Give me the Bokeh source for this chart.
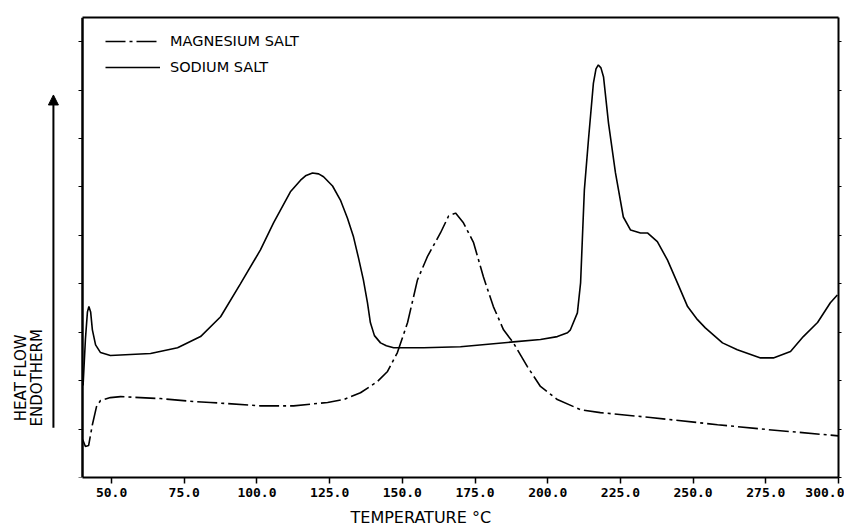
from math import pi
from bokeh.plotting import figure
from bokeh.models import (Range1d, LinearAxis, FixedTicker, PrintfTickFormatter,
                          Legend, LegendItem, Label, Arrow, NormalHead, Title)
from bokeh.embed import file_html
from bokeh.resources import INLINE

# ---- data ----
temp_na = [40.2, 41.0, 41.7, 42.2, 42.8, 43.4, 44.5, 46.2, 49.6, 56.5, 63.4, 72.7, 80.6, 87.5,
           94.3, 101.2, 105.7, 111.5, 115.0, 116.7, 119.1, 121.2, 122.9, 126.0, 128.7, 131.1,
           133.2, 134.9, 136.6, 138.0, 139.0, 140.4, 142.5, 144.5,
           147.0, 157.3, 170.0, 188.2, 197.5, 203.3, 206.8, 207.8, 210.2, 211.3, 211.9, 212.6,
           214.0, 215.7, 216.6, 217.4, 218.3, 219.2, 220.9, 223.3, 226.0, 228.5, 231.9, 234.3,
           237.7, 241.2, 244.6, 248.1, 251.5, 254.2, 260.1, 265.2, 273.2, 277.6, 283.5, 287.9,
           292.8, 297.2, 299.6]
heat_na = [1.90, 2.85, 3.42, 3.53, 3.42, 3.05, 2.74, 2.58, 2.52, 2.54, 2.56, 2.68, 2.91, 3.32,
           4.00, 4.70, 5.26, 5.90, 6.14, 6.23, 6.29, 6.27, 6.21, 6.02, 5.73, 5.36,
           4.97, 4.54, 4.08, 3.61, 3.20, 2.93, 2.78, 2.72,
           2.68, 2.68, 2.70, 2.80, 2.85, 2.91, 2.99, 3.05, 3.40, 4.02, 4.91, 5.94,
           6.97, 8.14, 8.44, 8.52, 8.46, 8.27, 7.32, 6.29, 5.38, 5.11, 5.05, 5.05,
           4.87, 4.49, 4.02, 3.53, 3.26, 3.09, 2.78, 2.64, 2.47, 2.47, 2.60, 2.91,
           3.20, 3.61, 3.77]

temp_mg = [40.1, 41.0, 42.1, 43.4, 44.8, 46.2, 49.6, 53.1, 66.8, 78.2, 84.0, 101.2, 112.6, 124.3,
           129.8, 135.6, 141.4, 144.9, 148.3, 151.8, 155.2, 158.6, 163.1, 165.9, 168.3, 171.0,
           174.5, 177.9, 181.3, 184.8, 188.2, 193.0, 197.5, 203.3, 211.3, 218.1, 235.3, 258.4,
           275.6, 300.0]
heat_mg = [0.78, 0.64, 0.66, 1.09, 1.46, 1.59, 1.65, 1.67, 1.63, 1.57, 1.55, 1.48, 1.48, 1.55,
           1.61, 1.75, 1.98, 2.19, 2.58, 3.20, 4.08, 4.56, 5.05, 5.40, 5.46, 5.26,
           4.85, 4.14, 3.53, 3.05, 2.78, 2.29, 1.88, 1.61, 1.40, 1.34, 1.24, 1.09,
           0.99, 0.86]

x_ticks = [50, 75, 100, 125, 150, 175, 200, 225, 250, 275, 300]
y_ticks = [0, 1, 2, 3, 4, 5, 6, 7, 8, 9]

series_names = ["MAGNESIUM SALT", "SODIUM SALT"]
x_title = "TEMPERATURE °C"
y_title_1 = "HEAT FLOW"
y_title_2 = "ENDOTHERM"

T_MIN, T_MAX = 40, 300

# ---- figure: the frame reaches the left edge so the y titles and arrow live inside it ----
p = figure(width=844, height=532, x_range=Range1d(11.8, T_MAX), y_range=Range1d(0, 9.5),
           output_backend="svg", toolbar_location=None,
           x_axis_location=None, y_axis_location=None,
           min_border_left=0, min_border_right=6, min_border_top=17, min_border_bottom=54)
p.grid.visible = False
p.outline_line_color = None
p.background_fill_color = "white"
p.border_fill_color = "white"

xaxis = LinearAxis(ticker=FixedTicker(ticks=x_ticks), formatter=PrintfTickFormatter(format="%.1f"),
                   bounds=(T_MIN, T_MAX),
                   major_tick_out=6, major_tick_in=0, minor_tick_line_color=None,
                   axis_line_width=2, major_tick_line_width=1.5,
                   major_label_text_font="DejaVu Sans Mono", major_label_text_font_size="13px",
                   major_label_text_font_style="bold",
                   major_label_text_color="black", major_label_standoff=4)
p.add_layout(xaxis, "below")

top_axis = LinearAxis(ticker=FixedTicker(ticks=x_ticks), bounds=(T_MIN, T_MAX),
                      major_label_overrides={t: "" for t in x_ticks},
                      major_tick_line_color=None, minor_tick_line_color=None,
                      axis_line_width=2, major_label_standoff=0)
p.add_layout(top_axis, "above")

blank = {t: "" for t in y_ticks}
yaxis_r = LinearAxis(ticker=FixedTicker(ticks=y_ticks), major_label_overrides=blank,
                     major_tick_out=3, major_tick_in=0, minor_tick_line_color=None,
                     axis_line_width=2, major_label_standoff=0)
p.add_layout(yaxis_r, "right")
# left border of the plot box: an axis pinned at T_MIN, ticks pointing outward (left)
yaxis_l = LinearAxis(ticker=FixedTicker(ticks=y_ticks), major_label_overrides=blank,
                     fixed_location=T_MIN,
                     major_tick_out=0, major_tick_in=4, minor_tick_line_color=None,
                     axis_line_width=2.5, major_label_standoff=0)
p.add_layout(yaxis_l, "right")

r_mg = p.line(temp_mg, heat_mg, line_color="black", line_width=1.6, line_dash="20 4 3 4")
r_na = p.line(temp_na, heat_na, line_color="black", line_width=1.6)

legend = Legend(items=[LegendItem(label=series_names[0], renderers=[r_mg]),
                       LegendItem(label=series_names[1], renderers=[r_na])],
                location=(105, 400), glyph_width=55, glyph_height=20, label_height=20,
                spacing=6, padding=0, margin=0, label_standoff=10,
                border_line_color=None, background_fill_alpha=0,
                label_text_font="DejaVu Sans", label_text_font_size="14.5px",
                label_text_color="black")
p.add_layout(legend)

p.add_layout(Label(x=18.7, y=2.06, text=y_title_1, angle=pi / 2, text_align="center",
                   text_baseline="middle", text_font="DejaVu Sans", text_font_size="15px",
                   text_color="black"))
p.add_layout(Label(x=24.5, y=2.06, text=y_title_2, angle=pi / 2, text_align="center",
                   text_baseline="middle", text_font="DejaVu Sans", text_font_size="15px",
                   text_color="black"))
p.add_layout(Arrow(x_start=30.0, y_start=1.03, x_end=30.0, y_end=7.9, line_width=2,
                   line_color="black",
                   end=NormalHead(size=10, fill_color="black", line_color="black")))

p.add_layout(Title(text=x_title, align="left", offset=350, text_font="DejaVu Sans",
                   text_font_size="16px", text_font_style="normal", text_color="black",
                   standoff=12), "below")

open("out.html", "w").write(file_html(p, INLINE))
